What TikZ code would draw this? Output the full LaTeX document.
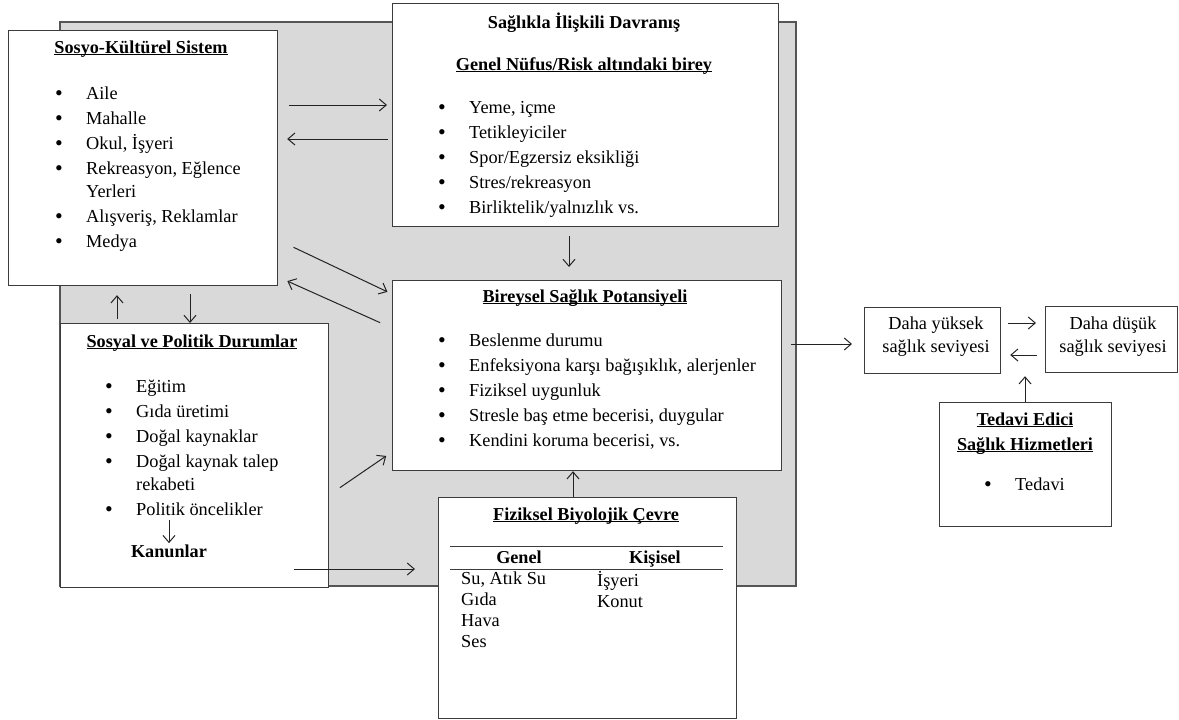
\documentclass[tikz,border=0pt]{standalone}
\usepackage{fontspec}
\setmainfont{Liberation Serif}
\usetikzlibrary{arrows.meta,positioning}
\definecolor{zemin}{RGB}{217,217,217}
\definecolor{zeminline}{RGB}{85,85,85}
\definecolor{boxline}{RGB}{60,60,60}
\definecolor{arrowline}{RGB}{35,35,35}
\newsavebox\ulbox
\newcommand{\ulin}[1]{\sbox\ulbox{#1}\rlap{\rule[-2pt]{\wd\ulbox}{1pt}}\usebox\ulbox}
\newcommand{\bul}{\makebox[31pt][l]{\raisebox{-1.2pt}{\fontsize{22}{0}\selectfont\textbullet}}}
\newcommand{\nobul}{\hspace*{31pt}}

\begin{document}
\begin{tikzpicture}[x=1pt, y=-1pt,
    font=\fontsize{18.3}{25}\selectfont,
    panel/.style={rectangle, draw=boxline, line width=1.2pt, fill=white, anchor=north west, inner sep=0pt},
    head/.style={font=\fontsize{18.2}{25}\selectfont\bfseries, inner sep=0pt, anchor=base, align=center},
    items/.style={align=left, inner sep=0pt, anchor=base west},
    plain/.style={inner sep=0pt, anchor=base, align=center},
    arr/.style={-{Straight Barb[length=7pt,width=12pt]}, line width=1pt, arrowline}
]
\useasboundingbox (0,0) rectangle (1179,720);
% grey frame behind the inner blocks
\fill[zemin, draw=zeminline, line width=1.2pt] (60,22) rectangle (796,586);

% boxes
\node[panel, minimum width=269pt, minimum height=255pt] (sosyo) at (8,30) {};
\node[panel, minimum width=386pt, minimum height=223pt] (davranis) at (392,3) {};
\node[panel, minimum width=268pt, minimum height=264pt] (sosyal) at (60,323) {};
\node[panel, minimum width=389pt, minimum height=190pt] (bireysel) at (392,280) {};
\node[panel, minimum width=298pt, minimum height=221pt] (cevre) at (438,497) {};
\node[panel, minimum width=136pt, minimum height=66pt] (yuksek) at (864,307) {};
\node[panel, minimum width=132pt, minimum height=66pt] (dusuk) at (1045,306) {};
\node[panel, minimum width=172pt, minimum height=124pt] (tedavi) at (939,402) {};

% Sosyo-Kulturel (lists are anchored at their last line)
\node[head] (sosyoT) at (141,53) {\ulin{Sosyo-Kültürel Sistem}};
\node[items] (sosyoL) at (55,247) {\bul Aile\\ \bul Mahalle\\ \bul Okul, İşyeri\\
  \bul Rekreasyon, Eğlence\\[-2pt] \nobul Yerleri\\ \bul Alışveriş, Reklamlar\\ \bul Medya};

% Davranis
\node[head] (davranisT) at (584,28) {Sağlıkla İlişkili Davranış};
\node[head] (davranisS) at (584,70) {\ulin{Genel Nüfus/Risk altındaki birey}};
\node[items] (davranisL) at (438,213) {\bul Yeme, içme\\ \bul Tetikleyiciler\\
  \bul Spor/Egzersiz eksikliği\\ \bul Stres/rekreasyon\\ \bul Birliktelik/yalnızlık vs.};

% Bireysel
\node[head] (bireyselT) at (585,302) {\ulin{Bireysel Sağlık Potansiyeli}};
\node[items] (bireyselL) at (438,446) {\bul Beslenme durumu\\ \bul Enfeksiyona karşı bağışıklık, alerjenler\\
  \bul Fiziksel uygunluk\\ \bul Stresle baş etme becerisi, duygular\\ \bul Kendini koruma becerisi, vs.};

% Sosyal ve Politik
\node[head] (sosyalT) at (192,347) {\ulin{Sosyal ve Politik Durumlar}};
\node[items] (sosyalL) at (105,515) {\bul Eğitim\\ \bul Gıda üretimi\\ \bul Doğal kaynaklar\\
  \bul Doğal kaynak talep\\[-2pt] \nobul rekabeti\\ \bul Politik öncelikler};
\node[head] (kanun) at (169,557) {Kanunlar};

% Fiziksel Biyolojik Cevre
\node[head] (cevreT) at (586,520) {\ulin{Fiziksel Biyolojik Çevre}};
\draw[boxline, line width=1pt] (450,546) -- (723,546);
\draw[boxline, line width=1pt] (450,569) -- (723,569);
\node[head] (genel) at (519,563) {Genel};
\node[head] (kisisel) at (655,563) {Kişisel};
\node[items, font=\fontsize{18.3}{20.7}\selectfont] (genelL) at (461,647) {Su, Atık Su\\ Gıda\\ Hava\\ Ses};
\node[items, font=\fontsize{18.3}{20.7}\selectfont] (kisiselL) at (597,607) {İşyeri\\ Konut};

% right side
\node[plain, font=\fontsize{18.3}{23}\selectfont] (yuksekT) at (936,352) {Daha yüksek\\ sağlık seviyesi};
\node[plain, font=\fontsize{18.3}{23}\selectfont] (dusukT) at (1113,352) {Daha düşük\\ sağlık seviyesi};
\node[head] (tedaviT) at (1025,450) {\ulin{Tedavi Edici}\\ \ulin{Sağlık Hizmetleri}};
\node[items] (tedaviL) at (984,490) {\bul Tedavi};

% arrows
\draw[arr, shorten <=11pt, shorten >=5pt] (sosyo.east |- 0,105) -- (davranis.west |- 0,105);
\draw[arr, shorten <=4pt, shorten >=9pt] (davranis.west |- 0,139) -- (sosyo.east |- 0,139);
\draw[arr, shorten <=17pt, shorten >=5pt] (sosyo.east |- 0,240) -- (bireysel.west |- 0,294);
\draw[arr, shorten <=13pt, shorten >=10pt] (bireysel.west |- 0,328) -- (sosyo.east |- 0,277);
\draw[arr, shorten <=4pt, shorten >=9pt] (117,0 |- sosyal.north) -- (117,0 |- sosyo.south);
\draw[arr, shorten <=8pt] (190,0 |- sosyo.south) -- (190,0 |- sosyal.north);
\draw[arr, shorten <=9pt, shorten >=13pt] (569,0 |- davranis.south) -- (569,0 |- bireysel.north);
\draw[arr, shorten <=13pt, shorten >=7pt] (sosyal.east |- 0,495) -- (bireysel.west |- 0,452);
\draw[arr, shorten <=-35pt, shorten >=23pt] (sosyal.east |- 0,569) -- (cevre.west |- 0,569);
\draw[arr] (573,0 |- cevre.north) -- (573,0 |- bireysel.south);
\draw[arr, shorten <=9pt, shorten >=12pt] (bireysel.east |- 0,344) -- (yuksek.west |- 0,344);
\draw[arr, shorten <=7pt, shorten >=9pt] (yuksek.east |- 0,323) -- (dusuk.west |- 0,323);
\draw[arr, shorten <=8pt, shorten >=9pt] (dusuk.west |- 0,355) -- (yuksek.east |- 0,355);
\draw[arr, shorten >=2pt] (1025,0 |- tedavi.north) -- (1025,0 |- yuksek.south);
\draw[arr, shorten <=4pt, shorten >=1pt] (kanun.north |- sosyalL.south) -- (kanun.north);
\end{tikzpicture}
\end{document}
